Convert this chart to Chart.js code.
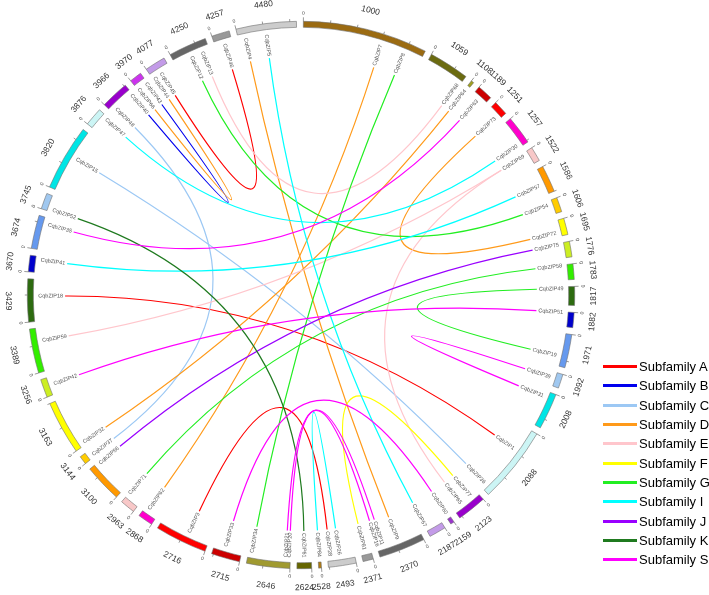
<!DOCTYPE html>
<html>
<head>
<meta charset="utf-8">
<script src="https://cdn.jsdelivr.net/npm/chart.js@4.4.0/dist/chart.umd.min.js"></script>
<style>
  body { margin: 0; background: #fff; width: 709px; height: 595px; overflow: hidden; position: relative; font-family: Arial, "Liberation Sans", sans-serif; }
  #circos { position: absolute; left: 0; top: 0; }
  #legend { position: absolute; left: 603px; top: 357px; }
  .item { height: 19.3px; display: flex; align-items: center; font-size: 13px; color: #000; white-space: nowrap; }
  .item .swatch { width: 34px; height: 3px; margin-right: 2px; }
</style>
</head>
<body>
<canvas id="circos" width="709" height="595"></canvas>
<div id="legend"></div>
<script>
// Scaffolds round the ring, clockwise from the top
const scaffolds = ['1000','1059','1108','1189','1251','1257','1522','1586','1606','1695','1776','1783','1817','1882','1971','1992','2008','2088','2123','2159','2187','2370','2371','2493','2528','2624','2646','2715','2716','2868','2963','3100','3144','3163','3256','3389','3429','3670','3674','3745','3820','3876','3966','3970','4077','4250','4257','4480'];
const lengths = [26.5,8.6,0.6,3.3,3.1,6.1,3.1,5.7,3.1,3.5,3.3,3.3,4.0,3.2,7.1,3.0,7.7,16.3,6.3,0.8,3.6,9.9,2.2,5.9,0.6,3.1,9.2,6.1,11.1,3.2,3.2,8.1,1.8,11.4,3.9,9.4,9.1,3.5,7.1,3.4,14,3.9,6,2.6,4.4,8.1,3.8,12.8];
const scaffoldColors = ['#9b6b12','#6b6b10','#a0a020','#cc0000','#ff0000','#ff00cc','#f8c8c8','#ff9900','#ffcc00','#ffff00','#ccee22','#33ee00','#2d6b10','#0000cc','#6699ee','#a0c8f0','#00e5e5','#ccf5f5','#9900cc','#9933cc','#c39be8','#666666','#999999','#cccccc','#b07a10','#666600','#a09a30','#cc0000','#ff0000','#ff00cc','#f8c8c8','#ff9900','#ffcc00','#ffff00','#ccee22','#33ee00','#2d6b10','#0000cc','#6699ee','#a0c8f0','#00e5e5','#ccf5f5','#9900cc','#cc33ee','#c39be8','#666666','#999999','#cccccc'];

// Subfamilies (legend + link colours)
const subfamilies = ['A','B','C','D','E','F','G','I','J','K','S'];
const subfamilyColors = ['#ff0000','#0000ee','#9cc8f4','#ff9a1a','#ffc6cc','#ffff00','#22ee22','#00ffff','#9900ff','#1f7a1f','#ff00ff'];

// Genes: name, scaffold, relative place on the scaffold
const genes = [
  ['CqbZIP46','4257',0.55],['CqbZIP45','4077',0.5],['CqbZIP44','4077',0.1],['CqbZIP43','3970',0.9],
  ['CqbZIP66','3970',0.1],['CqbZIP40','3966',0.95],['CqbZIP48','3966',0.2],['CqbZIP47','3876',0.85],
  ['CqbZIP15','3820',0.57],['CqbZIP52','3745',0.15],['CqbZIP35','3674',0.8],['CqbZIP41','3670',0.8],
  ['CqbZIP18','3429',0.6],['CqbZIP59','3389',0.7],['CqbZIP42','3256',0.55],['CqbZIP32','3163',0.06],
  ['CqbZIP37','3144',0.3],['CqbZIP56','3100',0.95],['CqbZIP71','2963',0.95],['CqbZIP62','2868',0.7],
  ['CqbZIP3','2716',0.42],['CqbZIP33','2715',0.6],['CqbZIP34','2646',0.92],['CqbZIP21','2646',0.11],
  ['CqbZIP20','2646',0.03],['CqbZIP61','2624',0.5],['CqbZIP84','2528',0.5],['CqbZIP28','2493',0.9],
  ['CqbZIP26','2493',0.55],['CqbZIP81','2371',0.6],['CqbZIP16','2370',0.99],['CqbZIP11','2370',0.87],
  ['CqbZIP9','2370',0.52],['CqbZIP67','2187',0.97],['CqbZIP60','2159',0.5],['CqbZIP65','2123',0.68],
  ['CqbZIP77','2123',0.27],['CqbZIP36','2088',0.93],['CqbZIP1','2088',0.33],['CqbZIP31','2008',0.17],
  ['CqbZIP39','1992',0.45],['CqbZIP19','1971',0.7],['CqbZIP51','1882',0.05],['CqbZIP49','1817',0.1],
  ['CqbZIP58','1783',0.05],['CqbZIP75','1776',0.1],['CqbZIP72','1695',0.75],['CqbZIP54','1606',0.3],
  ['CqbZIP57','1586',0.6],['CqbZIP69','1522',0.2],['CqbZIP30','1257',0.9],['CqbZIP73','1251',0.75],
  ['CqbZIP63','1189',0.5],['CqbZIP64','1108',0.4],['CqbZIP68','1059',0.95],['CqbZIP8','1000',0.85],
  ['CqbZIP7','1000',0.65],['CqbZIP5','4480',0.48],['CqbZIP4','4480',0.12],['CqbZIP13','4250',0.8],
  ['CqbZIP12','4250',0.48]
];

// Duplicated pairs: gene, gene, subfamily
const links = [
  ['CqbZIP46','CqbZIP45','A'],['CqbZIP18','CqbZIP1','A'],['CqbZIP3','CqbZIP28','A'],
  ['CqbZIP40','CqbZIP43','B'],
  ['CqbZIP48','CqbZIP37','C'],['CqbZIP15','CqbZIP36','C'],
  ['CqbZIP44','CqbZIP66','D'],['CqbZIP4','CqbZIP9','D'],['CqbZIP7','CqbZIP62','D'],['CqbZIP64','CqbZIP32','D'],['CqbZIP73','CqbZIP72','D'],
  ['CqbZIP13','CqbZIP68','E'],['CqbZIP59','CqbZIP69','E'],['CqbZIP65','CqbZIP69','E'],
  ['CqbZIP77','CqbZIP81','F'],
  ['CqbZIP12','CqbZIP54','G'],['CqbZIP8','CqbZIP34','G'],['CqbZIP58','CqbZIP71','G'],['CqbZIP49','CqbZIP19','G'],
  ['CqbZIP5','CqbZIP67','I'],['CqbZIP47','CqbZIP30','I'],['CqbZIP41','CqbZIP57','I'],['CqbZIP84','CqbZIP26','I'],
  ['CqbZIP75','CqbZIP56','J'],
  ['CqbZIP52','CqbZIP61','K'],
  ['CqbZIP20','CqbZIP16','S'],['CqbZIP21','CqbZIP11','S'],['CqbZIP42','CqbZIP51','S'],['CqbZIP35','CqbZIP63','S'],['CqbZIP39','CqbZIP31','S'],['CqbZIP33','CqbZIP60','S']
];

const TICK_STEP = 5.7;

// ring data with an even gap after each scaffold
const total = lengths.reduce((a, b) => a + b, 0);
const GAP = (360 - total) / lengths.length;
const ringData = [], ringColors = [], ringBorder = [], ringLabels = [];
lengths.forEach((v, i) => {
    ringData.push(v, GAP);
    ringColors.push(scaffoldColors[i], 'rgba(0,0,0,0)');
    ringBorder.push(0.6, 0);
    ringLabels.push(scaffolds[i], '');
});

function rotText(ctx, text, x, y, deg) {
    ctx.save();
    ctx.translate(x, y);
    ctx.rotate(deg * Math.PI / 180);
    ctx.fillText(text, 0, 0);
    ctx.restore();
}

const circosPlugin = {
    id: 'circos',
    afterDatasetsDraw(chart) {
        const ctx = chart.ctx;
        const arcs = chart.getDatasetMeta(0).data;
        const cx = arcs[0].x, cy = arcs[0].y, R = arcs[0].outerRadius;
        const arcOf = name => arcs[2 * scaffolds.indexOf(name)];
        const deg = a => ((a * 180 / Math.PI + 90) % 360 + 360) % 360;

        ctx.save();
        ctx.strokeStyle = '#555';
        ctx.lineWidth = 0.6;
        ctx.fillStyle = '#444';
        // ticks and "0" marks
        scaffolds.forEach((name, i) => {
            const arc = arcOf(name);
            const span = arc.endAngle - arc.startAngle;
            for (let t = 0; t <= lengths[i] + 1e-6; t += TICK_STEP) {
                const a = arc.startAngle + span * t / lengths[i];
                const len = t === 0 ? 4 : 2.5;
                ctx.beginPath();
                ctx.moveTo(cx + R * Math.cos(a), cy + R * Math.sin(a));
                ctx.lineTo(cx + (R + len) * Math.cos(a), cy + (R + len) * Math.sin(a));
                ctx.stroke();
            }
            const a0 = arc.startAngle;
            ctx.font = '5px Arial';
            ctx.textAlign = 'center';
            ctx.textBaseline = 'middle';
            let d0 = deg(a0);
            rotText(ctx, '0', cx + (R + 8) * Math.cos(a0), cy + (R + 8) * Math.sin(a0), (d0 > 90 && d0 < 270) ? d0 - 180 : d0);
        });
        // scaffold names
        ctx.fillStyle = '#333';
        ctx.font = '8.5px Arial';
        scaffolds.forEach(name => {
            const arc = arcOf(name);
            const a = (arc.startAngle + arc.endAngle) / 2;
            const d = deg(a);
            rotText(ctx, name, cx + (R + 19) * Math.cos(a), cy + (R + 19) * Math.sin(a), (d > 90 && d < 270) ? d - 180 : d);
        });

        // gene labels, radial, ending just inside the ring
        const rOut = arcs[0].innerRadius - 5;
        const ends = {};
        ctx.font = '5.5px Arial';
        ctx.fillStyle = '#555';
        genes.forEach(([gene, sc, f]) => {
            const arc = arcOf(sc);
            const a = arc.startAngle + f * (arc.endAngle - arc.startAngle);
            const w = ctx.measureText(gene).width;
            const d = deg(a);
            ctx.save();
            ctx.translate(cx, cy);
            if (d < 180) {
                ctx.rotate(a);
                ctx.textAlign = 'right';
                ctx.fillText(gene, rOut, 0);
            } else {
                ctx.rotate(a + Math.PI);
                ctx.textAlign = 'left';
                ctx.fillText(gene, -rOut, 0);
            }
            ctx.restore();
            const r = rOut - w - 2;
            ends[gene] = [cx + r * Math.cos(a), cy + r * Math.sin(a)];
        });

        // links, bent through the centre
        ctx.lineWidth = 1.2;
        links.forEach(([g1, g2, fam]) => {
            const p = ends[g1], q = ends[g2];
            ctx.strokeStyle = subfamilyColors[subfamilies.indexOf(fam)];
            ctx.beginPath();
            ctx.moveTo(p[0], p[1]);
            ctx.quadraticCurveTo(cx, cy, q[0], q[1]);
            ctx.stroke();
        });
        ctx.restore();
    }
};

new Chart(document.getElementById('circos').getContext('2d'), {
    type: 'doughnut',
    data: {
        labels: ringLabels,
        datasets: [{
            data: ringData,
            backgroundColor: ringColors,
            borderColor: '#707070',
            borderWidth: ringBorder
        }]
    },
    options: {
        responsive: false,
        animation: false,
        rotation: 0.5,
        cutout: '97.8%',
        events: [],
        layout: { padding: { left: 27, top: 21, right: 134, bottom: 26 } },
        plugins: { legend: { display: false }, tooltip: { enabled: false } }
    },
    plugins: [circosPlugin]
});

// legend
const legend = document.getElementById('legend');
subfamilies.forEach((s, i) => {
    const row = document.createElement('div');
    row.className = 'item';
    row.innerHTML = '<span class="swatch" style="background:' + subfamilyColors[i] + '"></span>Subfamily ' + s;
    legend.appendChild(row);
});
</script>
</body>
</html>
